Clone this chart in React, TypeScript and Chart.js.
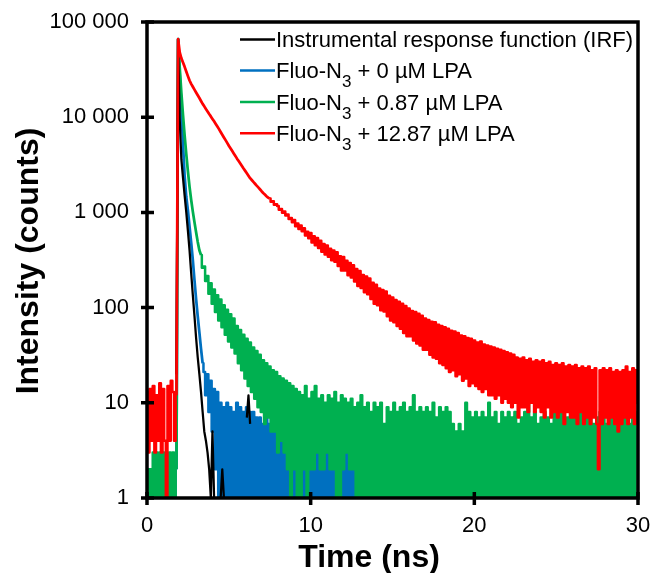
import React, { useEffect, useRef } from "react";
import { Chart, registerables } from "chart.js";

Chart.register(...registerables);

const FONT = '"Liberation Sans", Arial, Helvetica, sans-serif';

// time axis: one channel every 0.1 ns, starting at 0 ns
const timeStep = 0.1;

// Instrumental response function (IRF), counts
const irfCounts: (number | null)[] = [
  null, null, null, null, null, null, null, null, null, null, null, null, null, null, null, null, null, null,
  20,
  66000, 9500, 3600, 2300, 1500, 1000, 640, 400, 230, 135, 82, 48, 30, 20, 13, 8, 5, 4, 3, 2, 1, 5, 1,
  null, null, null,
  1, 2, 1,
  null, null, null, null, null, null, null, null, null, null, null, null, null,
  7, 12, 6,
  null, null,
];

// Fluo-N3 + 0 µM LPA, counts (0 – 13 ns)
const lpa0Counts: number[] = [
  1, 2, 1, 2, 1, 1, 2, 1, 2, 1, 1, 2, 1, 2, 1, 2, 1, 1,
  2,
  66000, 28000, 12600, 5200, 2400, 1450, 1050, 710, 480, 316, 195, 123, 81, 55, 37, 26,
  21, 12, 20, 8, 17,
  5, 14, 2, 13, 1, 10, 1, 9, 1, 10,
  1, 9, 1, 8, 1, 10, 1, 9, 1, 8,
  1, 9, 1, 8, 1, 8, 1, 7, 1, 7,
  1, 6, 1, 7, 1, 6, 1, 6, 1, 5,
  1, 5, 1, 5, 1, 4, 1, 5, 1, 4,
  1, 4, 1, 3, 1, 4, 1, 3, 1, 4,
  1, 3, 1, 4, 1, 3, 1, 3, 1, 4,
  1, 3, 1, 3, 1, 4, 1, 3, 1, 3,
  1, 3, 1, 3, 1, 4, 1, 3, 1, 3,
  1,
];

// Fluo-N3 + 0.87 µM LPA, counts (0 – 30 ns)
const lpa087Counts: number[] = [
  2, 1, 2, 1, 3, 1, 3, 1, 3, 1, 3, 1, 3, 1, 3, 1, 3, 1,
  2,
  66000, 33000, 18000, 10500, 6400, 4100, 2700, 1850, 1350, 1020, 790, 620, 490, 400,
  357, 262, 270, 190, 215, 140, 180,
  110, 155, 90, 135, 73, 122, 62, 106, 52, 95,
  44, 85, 38, 77, 33, 64, 26, 58, 22, 52,
  18, 47, 15, 43, 13, 38, 11, 35, 9, 32,
  8, 28, 6, 26, 7, 24, 5, 22, 5, 21,
  3, 19, 4, 18, 3, 17, 2, 16, 1, 15,
  2, 14, 1, 13, 1, 12, 2, 15, 1, 11,
  2, 13, 2, 15, 3, 11, 2, 12, 2, 10,
  3, 12, 2, 11, 2, 13, 1, 10, 1, 12,
  2, 11, 3, 10, 2, 11, 2, 9, 1, 10,
  1, 12, 1, 9, 1, 10, 1, 8, 1, 10,
  1, 9, 1, 10, 1, 6, 1, 9, 1, 8,
  1, 10, 1, 8, 1, 9, 1, 10, 1, 8,
  1, 9, 1, 12, 1, 8, 1, 9, 1, 8,
  1, 9, 1, 8, 1, 10, 1, 7, 1, 9,
  1, 8, 1, 9, 1, 8, 1, 6, 1, 5,
  1, 6, 1, 5, 1, 10, 1, 8, 1, 7,
  1, 8, 1, 7, 1, 8, 1, 7, 1, 10,
  1, 7, 1, 8, 1, 6, 1, 8, 1, 7,
  1, 8, 1, 7, 1, 8, 1, 6, 1, 7,
  1, 8, 1, 10, 1, 7, 1, 8, 1, 6,
  1, 7, 1, 8, 1, 7, 1, 6, 1, 8,
  1, 7, 1, 8, 1, 6, 1, 7, 1, 8,
  1, 7, 1, 6, 1, 8, 1, 7, 1, 7,
  1, 8, 1, 6, 1, 7, 1, 8, 1, 7,
  1, 6, 1, 7, 1, 8, 1, 7, 1, 6,
  1, 7, 1, 8, 1, 6, 1, 7, 1, 8, 7,
];

// Fluo-N3 + 12.87 µM LPA, counts (0 – 30 ns)
const lpa1287Counts: number[] = [
  13, 3, 14, 4, 15, 3, 12, 4, 16, 3, 14, 4, 1, 15, 4, 17, 13, 4,
  12,
  66000, 48000, 41500, 37500, 33800, 30200, 27000, 24300, 22400, 20900, 19500,
  18200, 17000, 15900, 14800, 13800, 13000, 12200, 11500, 10800, 10200,
  9600, 9050, 8500, 8000, 7500, 7000, 6550, 6130, 5740, 5370,
  5010, 4710, 4430, 4160, 3910, 3670, 3460, 3260, 3070, 2890,
  2730, 2580, 2430, 2290, 2190, 2090, 2000, 1910, 1830, 1750,
  1670, 1600, 1540, 1480, 1430,
  1400, 1290, 1310, 1200, 1220,
  1170, 1065, 1085, 990, 1025, 930, 950, 850, 875, 790,
  830, 715, 765, 668, 730, 632, 680, 572, 625, 536,
  606, 483, 560, 453, 540, 423, 504, 385, 465, 361,
  448, 342, 416, 315, 399, 303, 381, 274, 347, 245,
  340, 245, 310, 219, 294, 207, 278, 188, 254, 169,
  242, 161, 220, 145, 212, 138, 202, 123, 182, 110,
  174, 106, 159, 94, 153, 91, 148, 81, 133, 73,
  128, 70, 120, 64, 115, 60, 110, 54, 104, 50,
  98, 50, 92, 45, 90, 42, 86, 40, 82, 36,
  77, 36, 74, 32, 71, 30, 70, 29, 66, 26,
  64, 25, 62, 23, 60, 21, 57, 22, 56, 19,
  54, 20, 51, 17, 50, 18, 48, 15, 47, 16,
  45, 15, 43, 14, 44, 13, 41, 14, 40, 12,
  39, 12, 38, 11, 37, 12, 36, 10, 35, 11,
  34, 10, 33, 9, 32, 10, 30, 7, 29, 9,
  30, 9, 28, 8, 29, 10, 27, 8, 28, 9,
  27, 8, 28, 7, 26, 9, 27, 7, 25, 8,
  26, 7, 25, 8, 26, 6, 24, 8, 25, 7,
  24, 7, 25, 6, 23, 8, 24, 6, 23, 7,
  24, 6, 22, 7, 23, 6, 2, 22, 6, 23,
  7, 22, 6, 23, 7, 21, 6, 22, 5, 21,
  6, 22, 7, 24, 6, 21, 7, 23, 6, 22, 10,
];

const seriesLabels = [
  "Instrumental response function (IRF)",
  "Fluo-N₃ + 0 µM LPA",
  "Fluo-N₃ + 0.87 µM LPA",
  "Fluo-N₃ + 12.87 µM LPA",
];
const seriesColors = ["#000000", "#0070C0", "#00B050", "#FF0000"];
const seriesDrawOrder = [1, 3, 2, 0]; // lower = drawn on top
// channel index range (inclusive) of the clean, low-noise part of each decay
const cleanRanges = [
  [0, 65],
  [18, 34],
  [18, 33],
  [18, 75],
];

const xTickValues = [0, 10, 20, 30];
const yTickValues = [1, 10, 100, 1000, 10000, 100000];
const yTickLabels = ["1", "10", "100", "1 000", "10 000", "100 000"];

const xTitle = "Time (ns)";
const yTitle = "Intensity (counts)";

function toPoints(counts: (number | null)[]) {
  return counts.map((c, i) => ({ x: Math.round(i * timeStep * 10) / 10, y: c }));
}

const decorPlugin = {
  id: "decor",
  afterDatasetsDraw(chart: any) {
    const { ctx, chartArea: a, scales } = chart;
    ctx.save();
    // frame
    ctx.strokeStyle = "#000";
    ctx.lineWidth = 3.5;
    ctx.lineCap = "butt";
    ctx.strokeRect(a.left, a.top, a.right - a.left, a.bottom - a.top);
    // tick marks
    ctx.beginPath();
    yTickValues.forEach((v) => {
      const y = scales.y.getPixelForValue(v);
      ctx.moveTo(a.left - 6, y);
      ctx.lineTo(a.left + 7, y);
    });
    xTickValues.forEach((v) => {
      const x = scales.x.getPixelForValue(v);
      ctx.moveTo(x, a.bottom - 6);
      ctx.lineTo(x, a.bottom + 7);
    });
    ctx.stroke();

    // legend
    const rowY = [39.5, 70.5, 102, 133.3];
    seriesLabels.forEach((label, i) => {
      const y = rowY[i];
      ctx.strokeStyle = seriesColors[i];
      ctx.lineWidth = 2.5;
      ctx.beginPath();
      ctx.moveTo(240, y);
      ctx.lineTo(275, y);
      ctx.stroke();
      ctx.fillStyle = "#000";
      ctx.textAlign = "left";
      ctx.textBaseline = "alphabetic";
      const parts = label.split("₃");
      let x = 276;
      ctx.font = `22px ${FONT}`;
      ctx.fillText(parts[0], x, y + 7.8);
      x += ctx.measureText(parts[0]).width;
      if (parts.length > 1) {
        ctx.font = `17px ${FONT}`;
        ctx.fillText("3", x, y + 16.5);
        x += ctx.measureText("3").width;
        ctx.font = `22px ${FONT}`;
        ctx.fillText(parts[1], x, y + 7.8);
      }
    });

    // axis titles
    ctx.fillStyle = "#000";
    ctx.font = `bold 32px ${FONT}`;
    ctx.textAlign = "center";
    ctx.textBaseline = "alphabetic";
    ctx.fillText(xTitle, 369, 567);
    ctx.translate(38, 261);
    ctx.rotate(-Math.PI / 2);
    ctx.fillText(yTitle, 0, 0);
    ctx.restore();
  },
};

function zeroPadding(s: any) {
  s.paddingLeft = 0;
  s.paddingRight = 0;
  s.paddingTop = 0;
  s.paddingBottom = 0;
}

export default function App() {
  const ref = useRef<HTMLCanvasElement>(null);
  useEffect(() => {
    const seriesCounts = [irfCounts, lpa0Counts, lpa087Counts, lpa1287Counts];
    const datasets: any[] = [];
    seriesCounts.forEach((counts, s) => {
      const [a, b] = cleanRanges[s];
      const pts = toPoints(counts);
      const common = {
        borderColor: seriesColors[s],
        backgroundColor: seriesColors[s],
        borderJoinStyle: "round",
        pointRadius: 0,
        tension: 0,
        fill: false,
        spanGaps: false,
        order: seriesDrawOrder[s],
      };
      datasets.push({
        ...common,
        label: seriesLabels[s],
        data: pts.map((p, i) => (i >= a && i <= b ? p : { x: p.x, y: null })),
        borderWidth: s === 0 ? 2.25 : 2.75,
        stepped: false,
      });
      const noisy = pts.map((p, i) => (i > a && i < b ? { x: p.x, y: null } : p));
      if (noisy.some((p) => p.y !== null)) {
        datasets.push({
          ...common,
          label: seriesLabels[s] + " (noise)",
          data: noisy,
          borderWidth: 2.5,
          stepped: "middle",
        });
      }
    });

    const chart = new Chart(ref.current as HTMLCanvasElement, {
      type: "line",
      data: { datasets },
      options: {
        animation: false,
        responsive: true,
        maintainAspectRatio: false,
        events: [],
        layout: { padding: { left: 0, right: 14, top: 22, bottom: 0 } },
        plugins: {
          legend: { display: false },
          tooltip: { enabled: false },
          title: { display: false },
        },
        scales: {
          x: {
            type: "linear",
            min: 0,
            max: 30,
            afterBuildTicks: (s: any) => {
              s.ticks = xTickValues.map((value) => ({ value }));
            },
            afterFit: (s: any) => {
              s.height = 75;
              zeroPadding(s);
            },
            ticks: {
              font: { family: FONT, size: 22 },
              color: "#000",
              padding: 15,
              maxRotation: 0,
              autoSkip: false,
              callback: (v: any) => String(v),
            },
            grid: { display: false, drawTicks: false },
            border: { display: false },
          },
          y: {
            type: "logarithmic",
            min: 1,
            max: 100000,
            afterBuildTicks: (s: any) => {
              s.ticks = yTickValues.map((value) => ({ value }));
            },
            afterFit: (s: any) => {
              s.width = 147;
              zeroPadding(s);
            },
            ticks: {
              font: { family: FONT, size: 22 },
              color: "#000",
              padding: 18,
              autoSkip: false,
              callback: (v: any) => {
                const i = yTickValues.indexOf(Number(v));
                return i >= 0 ? yTickLabels[i] : "";
              },
            },
            grid: { display: false, drawTicks: false },
            border: { display: false },
          },
        },
      } as any,
      plugins: [decorPlugin],
    });
    return () => chart.destroy();
  }, []);
  return (
    <div style={{ position: "fixed", left: 0, top: 0, width: 652, height: 573, background: "#fff" }}>
      <canvas ref={ref} />
    </div>
  );
}
